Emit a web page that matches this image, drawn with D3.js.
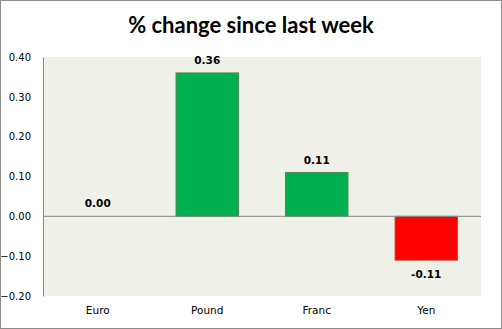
<!DOCTYPE html>
<html>
<head>
<meta charset="utf-8">
<script src="https://cdn.jsdelivr.net/npm/d3@7"></script>
<style>
  html, body { margin: 0; padding: 0; background: #fff; }
  svg { display: block; }
</style>
</head>
<body>
<script>
// Weekly currency moves
const categories = ["Euro", "Pound", "Franc", "Yen"];
const values = [0.00, 0.36, 0.11, -0.11];
const labels = ["0.00", "0.36", "0.11", "-0.11"];
const yTicks = [-0.20, -0.10, 0.00, 0.10, 0.20, 0.30, 0.40];
const title = "% change since last week";

const W = 502, H = 329;
const plot = { left: 43, right: 481, top: 57, bottom: 296 };

const svg = d3.select("body").append("svg")
  .attr("width", W).attr("height", H);

// outer frame
svg.append("rect")
  .attr("x", 0.5).attr("y", 0.5)
  .attr("width", W - 1).attr("height", H - 1)
  .attr("fill", "#fff").attr("stroke", "#8c8c8c");

const x = d3.scaleBand()
  .domain(categories)
  .range([plot.left, plot.right])
  .paddingInner(0.43).paddingOuter(0.215);

const y = d3.scaleLinear()
  .domain([-0.20, 0.40])
  .range([plot.bottom, plot.top]);

// plot background
svg.append("rect")
  .attr("x", plot.left).attr("y", plot.top)
  .attr("width", plot.right - plot.left)
  .attr("height", plot.bottom - plot.top)
  .attr("fill", "#eff0e8");

// title
svg.append("text")
  .attr("x", 251).attr("y", 33)
  .attr("text-anchor", "middle")
  .style("font-family", "Lato, 'Open Sans', sans-serif")
  .style("font-weight", "bold")
  .style("font-size", "22px")
  .attr("fill", "#000")
  .text(title);

// y axis
const yAxis = d3.axisLeft(y)
  .tickValues(yTicks)
  .tickFormat(d3.format(".2f"))
  .tickSize(0)
  .tickPadding(12);

const gy = svg.append("g")
  .attr("transform", `translate(${plot.left},0)`)
  .call(yAxis);
gy.select(".domain").attr("stroke", "#888");
gy.selectAll("text")
  .style("font-family", "'DejaVu Sans', Verdana, sans-serif")
  .style("font-size", "10px")
  .attr("fill", "#000");

// x axis labels (no line)
const xAxis = d3.axisBottom(x).tickSize(0).tickPadding(0);
const gx = svg.append("g")
  .attr("transform", `translate(0,${plot.bottom + 11})`)
  .call(xAxis);
gx.select(".domain").remove();
gx.selectAll("text")
  .style("font-family", "'DejaVu Sans', Verdana, sans-serif")
  .style("font-size", "10.5px")
  .attr("fill", "#000");

// bars
svg.append("g").selectAll("rect")
  .data(values)
  .join("rect")
  .attr("x", (d, i) => x(categories[i]))
  .attr("width", x.bandwidth())
  .attr("y", d => y(Math.max(0, d)))
  .attr("height", d => Math.abs(y(d) - y(0)))
  .attr("fill", d => d >= 0 ? "#00b050" : "#ff0000")
  .attr("stroke", d => d >= 0 ? "#4a8a52" : "#b5503a")
  .attr("stroke-width", 1);

// zero line
svg.append("line")
  .attr("x1", plot.left).attr("x2", plot.right)
  .attr("y1", y(0)).attr("y2", y(0))
  .attr("stroke", "#888");

// value labels
svg.append("g").selectAll("text")
  .data(values)
  .join("text")
  .attr("x", (d, i) => x(categories[i]) + x.bandwidth() / 2)
  .attr("y", d => d >= 0 ? y(d) - 9 : y(d) + 18)
  .attr("text-anchor", "middle")
  .style("font-family", "'DejaVu Sans', Verdana, sans-serif")
  .style("font-weight", "bold")
  .style("font-size", "10.5px")
  .attr("fill", "#000")
  .text((d, i) => labels[i]);
</script>
</body>
</html>
